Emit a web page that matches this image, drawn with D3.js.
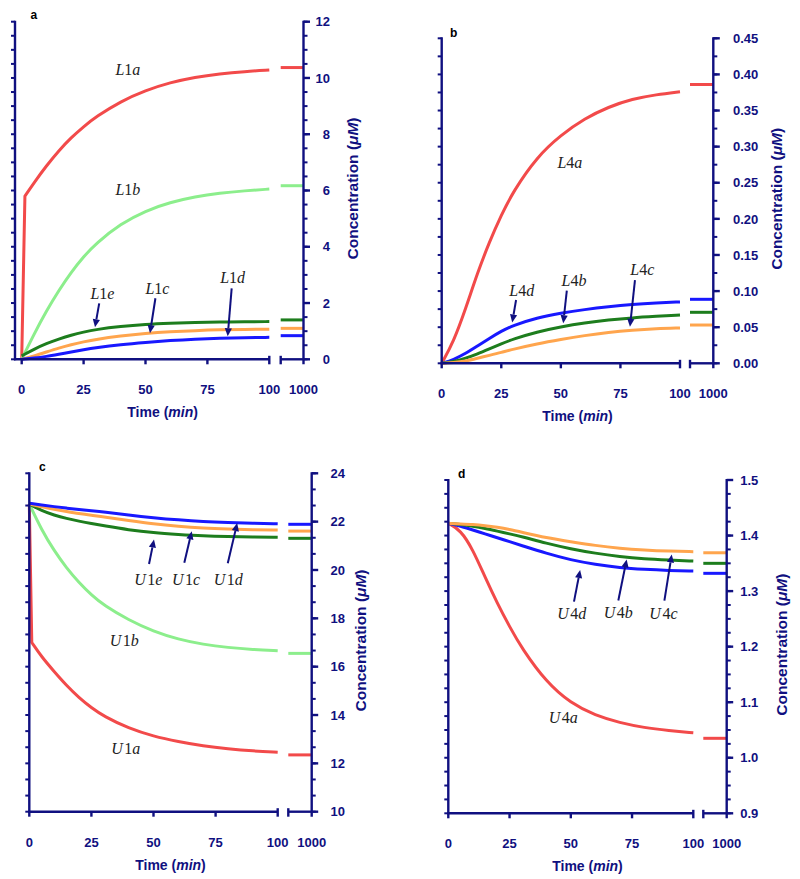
<!DOCTYPE html>
<html><head><meta charset="utf-8">
<script src="https://cdn.jsdelivr.net/npm/d3@7"></script>
<style>body{margin:0;background:#fff}svg{display:block}</style>
</head><body>
<svg id="chart" width="800" height="879"></svg>
<script>
// ---------- data ----------
const xTickValues = [0, 25, 50, 75, 100];
const xTickLabels = ["0", "25", "50", "75", "100"];
const xBreakLabel = "1000";

const timeMin   = [0, 5, 10, 15, 20, 25, 30, 40, 50, 60, 70, 80, 90, 100];
const timeJumpA = [0, 1.3, 5, 10, 15, 20, 25, 30, 40, 50, 60, 70, 80, 90, 100];
const timeJumpC = [0, 1, 5, 10, 15, 20, 25, 30, 40, 50, 60, 70, 80, 90, 100];

// panel a
const L1a = [0, 5.8, 6.28, 6.88, 7.42, 7.88, 8.27, 8.62, 9.17, 9.56, 9.84, 10.03, 10.15, 10.23, 10.28];
const L1b = [0, 0.9, 1.72, 2.45, 3.1, 3.65, 4.12, 4.82, 5.28, 5.58, 5.78, 5.91, 5.99, 6.05];
const L1e = [0.12, 0.36, 0.56, 0.72, 0.86, 0.97, 1.06, 1.17, 1.24, 1.28, 1.31, 1.325, 1.335, 1.34];
const L1c = [0, 0.12, 0.26, 0.40, 0.52, 0.62, 0.71, 0.83, 0.92, 0.98, 1.02, 1.05, 1.06, 1.07];
const L1d = [0, 0.04, 0.10, 0.18, 0.26, 0.34, 0.41, 0.52, 0.60, 0.67, 0.72, 0.75, 0.77, 0.78];
const endA = [10.37, 6.17, 1.40, 1.10, 0.84];          // L1a, L1b, L1e, L1c, L1d at 1000 min
const yTicksA = [0, 2, 4, 6, 8, 10, 12];
const yLabelsA = ["0", "2", "4", "6", "8", "10", "12"];

// panel b
const L4a = [0, 0.03, 0.075, 0.125, 0.168, 0.205, 0.238, 0.286, 0.316, 0.339, 0.355, 0.366, 0.372, 0.376];
const L4d = [0, 0.005, 0.0135, 0.024, 0.0345, 0.0445, 0.0525, 0.0632, 0.0695, 0.0745, 0.0785, 0.0815, 0.0835, 0.085];
const L4b = [0, 0.002, 0.007, 0.013, 0.020, 0.027, 0.0335, 0.0435, 0.0505, 0.056, 0.060, 0.063, 0.065, 0.067];
const L4c = [0, 0.001, 0.003, 0.007, 0.011, 0.015, 0.0195, 0.027, 0.033, 0.0385, 0.043, 0.046, 0.048, 0.049];
const endB = [0.386, 0.0886, 0.0706, 0.053];           // L4a, L4d, L4b, L4c
const yTicksB = [0, 0.05, 0.10, 0.15, 0.20, 0.25, 0.30, 0.35, 0.40, 0.45];
const yLabelsB = ["0.00", "0.05", "0.10", "0.15", "0.20", "0.25", "0.30", "0.35", "0.40", "0.45"];

// panel c
const U1a = [22.73, 17.0, 16.4, 15.8, 15.22, 14.72, 14.3, 13.95, 13.45, 13.12, 12.9, 12.72, 12.6, 12.51, 12.46];
const U1b = [22.73, 21.65, 20.8, 20.08, 19.48, 18.97, 18.54, 17.93, 17.46, 17.13, 16.92, 16.79, 16.71, 16.66];
const U1e = [22.73, 22.45, 22.27, 22.13, 22.02, 21.92, 21.83, 21.66, 21.54, 21.47, 21.41, 21.38, 21.36, 21.35];
const U1c = [22.73, 22.61, 22.51, 22.42, 22.33, 22.26, 22.20, 22.05, 21.90, 21.80, 21.73, 21.69, 21.66, 21.65];
const U1d = [22.76, 22.69, 22.62, 22.56, 22.50, 22.45, 22.40, 22.27, 22.16, 22.07, 22.00, 21.96, 21.93, 21.91];
const endC = [12.35, 16.55, 21.31, 21.61, 21.89];      // U1a, U1b, U1e, U1c, U1d
const yTicksC = [10, 12, 14, 16, 18, 20, 22, 24];
const yLabelsC = ["10", "12", "14", "16", "18", "20", "22", "24"];

// panel d
const U4a = [1.422, 1.41, 1.375, 1.325, 1.278, 1.236, 1.197, 1.136, 1.098, 1.076, 1.063, 1.054, 1.049, 1.045];
const U4d = [1.422, 1.417, 1.410, 1.403, 1.396, 1.389, 1.382, 1.368, 1.356, 1.348, 1.342, 1.339, 1.337, 1.336];
const U4b = [1.422, 1.420, 1.417, 1.413, 1.408, 1.403, 1.398, 1.386, 1.376, 1.368, 1.362, 1.358, 1.356, 1.354];
const U4c = [1.422, 1.421, 1.420, 1.418, 1.415, 1.411, 1.406, 1.396, 1.389, 1.382, 1.377, 1.374, 1.372, 1.371];
const endD = [1.035, 1.332, 1.350, 1.369];             // U4a, U4d, U4b, U4c
const yTicksD = [0.9, 1.0, 1.1, 1.2, 1.3, 1.4, 1.5];
const yLabelsD = ["0.9", "1.0", "1.1", "1.2", "1.3", "1.4", "1.5"];

// curve labels: [text, time, value]
const labelsA = [["L1a", 42.9, 10.29], ["L1b", 42.9, 6.02], ["L1e", 32.6, 2.33], ["L1c", 54.8, 2.50], ["L1d", 85.2, 2.91]];
const labelsB = [["L4a", 53.8, 0.278], ["L4d", 33.6, 0.101], ["L4b", 55.5, 0.115], ["L4c", 84.2, 0.130]];
const labelsC = [["U1e", 47.9, 19.62], ["U1c", 63.1, 19.62], ["U1d", 80.1, 19.62], ["U1b", 38.2, 17.10], ["U1a", 38.8, 12.62]];
const labelsD = [["U4d", 50.4, 1.260], ["U4b", 69.4, 1.261], ["U4c", 87.8, 1.260], ["U4a", 46.9, 1.073]];

// arrows: [t1, v1, t2 (tip), v2]
const arrowsA = [[31.3, 1.99, 29.6, 1.14], [54.0, 2.17, 51.8, 0.93], [84.8, 2.52, 83.2, 0.82]];
const arrowsB = [[31.2, 0.0876, 29.6, 0.0565], [52.5, 0.1005, 51.0, 0.0555], [81.1, 0.1153, 79.0, 0.0505]];
const arrowsC = [[48.2, 20.25, 50.2, 21.26], [62.4, 20.30, 65.4, 21.60], [79.9, 20.28, 83.7, 21.94]];
const arrowsD = [[51.3, 1.281, 53.8, 1.338], [69.4, 1.283, 72.8, 1.357], [88.2, 1.283, 91.2, 1.366]];

// ---------- styles / layout ----------
const NAVY = "#101080";
const RED = "#f24a4a", LGREEN = "#8cee8c", DGREEN = "#1d7d1d", ORANGE = "#ffa54d", BLUE = "#1818ff";

const panels = [
  { letter: "a", lay: {xLeft: 15, x0: 21.7, x100: 269.3, xb: 280.7, xr: 303.5, yTop: 21.7, yBot: 359.3, labelRight: 330, titleX: 352, lx: 30.5, ly: 18.5},
    yDomain: [0, 12], yTicks: yTicksA, yLabels: yLabelsA, minor: d3.range(0, 12.001, 0.5),
    series: [[timeJumpA, L1a, RED, true], [timeMin, L1b, LGREEN], [timeMin, L1e, DGREEN], [timeMin, L1c, ORANGE], [timeMin, L1d, BLUE]],
    ends: endA, labels: labelsA, arrows: arrowsA },
  { letter: "b", lay: {xLeft: 441.7, x0: 441.7, x100: 680, xb: 690, xr: 713.3, yTop: 38.3, yBot: 363.3, labelRight: 758.3, titleX: 776.5, lx: 450, ly: 36.5},
    yDomain: [0, 0.45], yTicks: yTicksB, yLabels: yLabelsB, minor: d3.range(0, 18.5).map(i => i * 0.025),
    series: [[timeMin, L4a, RED], [timeMin, L4d, BLUE], [timeMin, L4b, DGREEN], [timeMin, L4c, ORANGE]],
    ends: endB, labels: labelsB, arrows: arrowsB },
  { letter: "c", lay: {xLeft: 29.3, x0: 29.3, x100: 277.7, xb: 288.3, xr: 311.7, yTop: 473.3, yBot: 811.7, labelRight: 345, titleX: 360, lx: 39, ly: 470.5},
    yDomain: [10, 24], yTicks: yTicksC, yLabels: yLabelsC, minor: d3.range(0, 21.5).map(i => 10 + i * 2 / 3),
    series: [[timeJumpC, U1a, RED, true], [timeMin, U1b, LGREEN], [timeMin, U1e, DGREEN], [timeMin, U1c, ORANGE], [timeMin, U1d, BLUE]],
    ends: endC, labels: labelsC, arrows: arrowsC },
  { letter: "d", lay: {xLeft: 448.3, x0: 448.3, x100: 693.3, xb: 703.3, xr: 726.7, yTop: 480, yBot: 813.3, labelRight: 758.3, titleX: 781.5, lx: 458, ly: 478.3},
    yDomain: [0.9, 1.5], yTicks: yTicksD, yLabels: yLabelsD, minor: d3.range(0, 24.5).map(i => 0.9 + i * 0.025),
    series: [[timeMin, U4a, RED], [timeMin, U4d, BLUE], [timeMin, U4b, DGREEN], [timeMin, U4c, ORANGE]],
    ends: endD, labels: labelsD, arrows: arrowsD }
];

const svg = d3.select("#chart");
const SANS = "'Liberation Sans', Arial, sans-serif";
const SERIF = "'Liberation Serif', 'Times New Roman', serif";

function drawPanel(p) {
  const L = p.lay;
  const g = svg.append("g");
  const x = d3.scaleLinear().domain([0, 100]).range([L.x0, L.x100]);
  const xb = d3.scaleLinear().domain([900, 1000]).range([L.xb, L.xr]);
  const y = d3.scaleLinear().domain(p.yDomain).range([L.yBot, L.yTop]);
  const yB = L.yBot;

  // curves
  const lineSmooth = d3.line().x(d => x(d[0])).y(d => y(d[1])).curve(d3.curveBasis);
  p.series.forEach((s, i) => {
    const pts = s[0].map((t, k) => [t, s[1][k]]);
    let d;
    if (s[3]) {
      // sharp initial step, then a smooth curve
      d = "M" + x(pts[0][0]) + "," + y(pts[0][1]) + "L" + lineSmooth(pts.slice(1)).slice(1);
    } else {
      d = lineSmooth(pts);
    }
    g.append("path").attr("d", d).attr("fill", "none")
      .attr("stroke", s[2]).attr("stroke-width", 3).attr("stroke-linejoin", "round");
    g.append("line").attr("x1", xb(900)).attr("x2", xb(1000))
      .attr("y1", y(p.ends[i])).attr("y2", y(p.ends[i]))
      .attr("stroke", s[2]).attr("stroke-width", 3);
  });

  const ax = g.append("g").attr("stroke", NAVY).attr("stroke-width", 2.4).attr("fill", "none");
  // left axis
  ax.append("line").attr("x1", L.xLeft).attr("x2", L.xLeft).attr("y1", y(p.yDomain[1]) - 1).attr("y2", yB + 1);
  ax.selectAll(".lt").data(p.minor).join("line")
    .attr("x1", L.xLeft - 4).attr("x2", L.xLeft).attr("y1", d => y(d)).attr("y2", d => y(d)).attr("stroke-width", 2);
  // right axis
  ax.append("line").attr("x1", L.xr).attr("x2", L.xr).attr("y1", y(p.yDomain[1]) - 1).attr("y2", yB + 5);
  ax.selectAll(".rt").data(p.minor).join("line")
    .attr("x1", L.xr).attr("x2", L.xr + 4).attr("y1", d => y(d)).attr("y2", d => y(d)).attr("stroke-width", 2);
  ax.selectAll(".rM").data(p.yTicks).join("line")
    .attr("x1", L.xr).attr("x2", L.xr + 6.5).attr("y1", d => y(d)).attr("y2", d => y(d));
  // bottom axis, two segments
  ax.append("line").attr("x1", L.xLeft - 1).attr("x2", x(100)).attr("y1", yB).attr("y2", yB);
  ax.append("line").attr("x1", xb(900)).attr("x2", L.xr).attr("y1", yB).attr("y2", yB);
  ax.selectAll(".bt").data(xTickValues.slice(0, 4)).join("line")
    .attr("x1", d => x(d)).attr("x2", d => x(d)).attr("y1", yB).attr("y2", yB + 5);
  ax.append("line").attr("x1", x(100)).attr("x2", x(100)).attr("y1", yB - 3.5).attr("y2", yB + 5);
  ax.append("line").attr("x1", xb(900)).attr("x2", xb(900)).attr("y1", yB - 3.5).attr("y2", yB + 5);

  // x tick labels
  g.selectAll(".xl").data(xTickValues).join("text")
    .attr("x", d => x(d)).attr("y", yB + 35).attr("text-anchor", "middle")
    .attr("font-family", SANS).attr("font-weight", "bold").attr("font-size", 13).attr("fill", NAVY)
    .text((d, i) => xTickLabels[i]);
  g.append("text").attr("x", xb(1000)).attr("y", yB + 35).attr("text-anchor", "middle")
    .attr("font-family", SANS).attr("font-weight", "bold").attr("font-size", 13).attr("fill", NAVY)
    .text(xBreakLabel);
  // x title
  const xt = g.append("text").attr("x", (L.x0 + L.xr) / 2).attr("y", yB + 58).attr("text-anchor", "middle")
    .attr("font-family", SANS).attr("font-weight", "bold").attr("font-size", 14).attr("fill", NAVY);
  xt.append("tspan").text("Time (");
  xt.append("tspan").attr("font-style", "italic").text("min");
  xt.append("tspan").text(")");

  // y tick labels
  g.selectAll(".yl").data(p.yTicks).join("text")
    .attr("x", L.labelRight).attr("y", d => y(d)).attr("dy", "0.36em").attr("text-anchor", "end")
    .attr("font-family", SANS).attr("font-weight", "bold").attr("font-size", 13).attr("fill", NAVY)
    .text((d, i) => p.yLabels[i]);
  // y title
  const ym = (y(p.yDomain[0]) + y(p.yDomain[1])) / 2 - 2;
  const yt = g.append("text").attr("transform", `translate(${L.titleX},${ym}) rotate(-90)`)
    .attr("dy", "0.36em").attr("text-anchor", "middle")
    .attr("font-family", SANS).attr("font-weight", "bold").attr("font-size", 15.5).attr("fill", NAVY);
  yt.append("tspan").text("Concentration (");
  yt.append("tspan").attr("font-style", "italic").text("\u03BCM");
  yt.append("tspan").text(")");

  // panel letter
  g.append("text").attr("x", L.lx).attr("y", L.ly).attr("font-family", SANS).attr("font-weight", "bold")
    .attr("font-size", 12).attr("fill", "#000").text(p.letter);

  // curve labels
  p.labels.forEach(lb => {
    const s = lb[0];
    const t = g.append("text").attr("x", x(lb[1])).attr("y", y(lb[2]) + 5.5).attr("text-anchor", "middle")
      .attr("font-family", SERIF).attr("font-size", 16).attr("fill", "#222");
    t.append("tspan").attr("font-style", "italic").text(s[0]);
    t.append("tspan").attr("dx", s[0] === "U" ? 1.5 : 0).text(s[1]);
    t.append("tspan").attr("font-style", "italic").text(s[2]);
  });

  // arrows
  p.arrows.forEach(a => {
    const x1 = x(a[0]), y1 = y(a[1]), x2 = x(a[2]), y2 = y(a[3]);
    const ang = Math.atan2(y2 - y1, x2 - x1);
    const hl = 8, hw = 3.6;
    const bx = x2 - hl * Math.cos(ang), by = y2 - hl * Math.sin(ang);
    g.append("line").attr("x1", x1).attr("y1", y1).attr("x2", bx).attr("y2", by)
      .attr("stroke", NAVY).attr("stroke-width", 2);
    const px = -Math.sin(ang), py = Math.cos(ang);
    g.append("path").attr("d", `M${x2},${y2}L${bx + hw * px},${by + hw * py}L${bx - hw * px},${by - hw * py}Z`)
      .attr("fill", NAVY);
  });
}

panels.forEach(drawPanel);
</script>
</body></html>
